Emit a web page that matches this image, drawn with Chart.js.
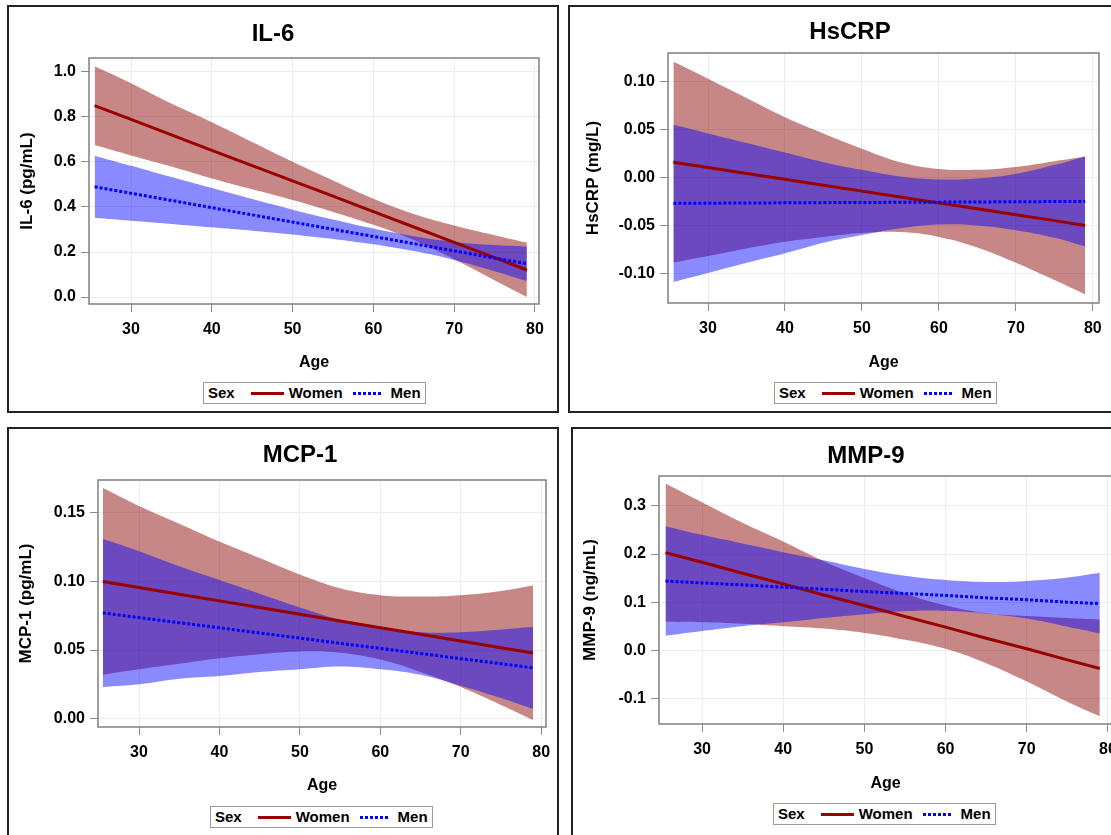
<!DOCTYPE html>
<html><head><meta charset="utf-8">
<script src="https://cdn.jsdelivr.net/npm/chart.js@4.4.1/dist/chart.umd.min.js"></script>
<style>
html,body{margin:0;padding:0;background:#fff;overflow:hidden;width:1111px;height:835px;}
body{position:relative;font-family:"Liberation Sans",Arial,sans-serif;font-weight:bold;color:#000;}
.panel{position:absolute;border:2px solid #222;width:548px;background:#fff;}
.panel canvas{position:absolute;left:0;top:0;}
.ptitle{position:absolute;width:300px;text-align:center;font-size:24px;line-height:28px;white-space:nowrap;}
.legend{position:absolute;height:22px;box-sizing:border-box;border:1px solid #9a9a9a;display:flex;align-items:center;font-size:15px;line-height:18px;padding:0 4px;white-space:nowrap;background:#fff;}
.legend .sw-w{display:inline-block;width:33px;height:3px;background:#990000;margin:0 5px 0 16px;}
.legend .sw-m{display:inline-block;width:30px;height:3px;margin:0 8px 0 10px;background:repeating-linear-gradient(90deg,#0000ff 0,#0000ff 3px,transparent 3px,transparent 5px);}
</style>
</head><body>
<script>
// ---------- data ----------
const ages = [25.5, 30, 35, 40, 45, 50, 55, 60, 65, 70, 75, 79];
const xTickValues = [30, 40, 50, 60, 70, 80];
const seriesNames = ['Women', 'Men'];
const legendTitle = 'Sex';
const xAxisTitle = 'Age';
const panelTitles = ['IL-6', 'HsCRP', 'MCP-1', 'MMP-9'];
const yAxisTitles = ['IL-6 (pg/mL)', 'HsCRP (mg/L)', 'MCP-1 (pg/mL)', 'MMP-9 (ng/mL)'];

const il6YTicks = [0, 0.2, 0.4, 0.6, 0.8, 1.0];
const il6YLabels = ['0.0', '0.2', '0.4', '0.6', '0.8', '1.0'];
const il6WomenMean  = [0.85, 0.789, 0.72, 0.652, 0.584, 0.516, 0.448, 0.379, 0.311, 0.243, 0.175, 0.12];
const il6WomenUpper = [1.025, 0.95, 0.86, 0.777, 0.689, 0.601, 0.518, 0.437, 0.369, 0.318, 0.275, 0.242];
const il6WomenLower = [0.675, 0.629, 0.58, 0.527, 0.479, 0.431, 0.378, 0.321, 0.253, 0.168, 0.075, 0.0];
const il6MenMean  = [0.49, 0.461, 0.429, 0.397, 0.365, 0.333, 0.301, 0.269, 0.237, 0.205, 0.173, 0.148];
const il6MenUpper = [0.628, 0.583, 0.533, 0.484, 0.435, 0.388, 0.344, 0.304, 0.27, 0.245, 0.231, 0.225];
const il6MenLower = [0.352, 0.339, 0.325, 0.31, 0.295, 0.278, 0.258, 0.234, 0.204, 0.165, 0.115, 0.071];

const crpYTicks = [-0.10, -0.05, 0.0, 0.05, 0.10];
const crpYLabels = ['-0.10', '-0.05', '0.00', '0.05', '0.10'];
const crpWomenMean  = [0.016, 0.0104, 0.0043, -0.0019, -0.008, -0.0142, -0.0204, -0.0265, -0.0327, -0.0389, -0.045, -0.05];
const crpWomenUpper = [0.121, 0.103, 0.083, 0.063, 0.046, 0.030, 0.016, 0.009, 0.008, 0.011, 0.017, 0.022];
const crpWomenLower = [-0.089, -0.082, -0.074, -0.067, -0.062, -0.058, -0.057, -0.062, -0.073, -0.089, -0.107, -0.122];
const crpMenMean  = [-0.027, -0.0268, -0.0266, -0.0264, -0.0262, -0.026, -0.0259, -0.0257, -0.0255, -0.0253, -0.0251, -0.025];
const crpMenUpper = [0.055, 0.046, 0.036, 0.026, 0.016, 0.008, 0.001, -0.002, -0.001, 0.004, 0.013, 0.022];
const crpMenLower = [-0.109, -0.0996, -0.089, -0.079, -0.068, -0.060, -0.053, -0.049, -0.050, -0.055, -0.063, -0.072];

const mcpYTicks = [0.0, 0.05, 0.10, 0.15];
const mcpYLabels = ['0.00', '0.05', '0.10', '0.15'];
const mcpWomenMean  = [0.100, 0.0956, 0.0907, 0.0858, 0.081, 0.0761, 0.0712, 0.0663, 0.0615, 0.0566, 0.0517, 0.0478];
const mcpWomenUpper = [0.168, 0.155, 0.142, 0.129, 0.117, 0.105, 0.095, 0.090, 0.089, 0.090, 0.093, 0.097];
const mcpWomenLower = [0.032, 0.036, 0.040, 0.044, 0.047, 0.049, 0.048, 0.043, 0.034, 0.023, 0.010, -0.001];
const mcpMenMean  = [0.077, 0.0736, 0.0699, 0.0662, 0.0624, 0.0587, 0.0549, 0.0512, 0.0475, 0.0437, 0.04, 0.037];
const mcpMenUpper = [0.131, 0.122, 0.111, 0.101, 0.091, 0.081, 0.072, 0.066, 0.063, 0.063, 0.065, 0.067];
const mcpMenLower = [0.023, 0.025, 0.029, 0.031, 0.034, 0.036, 0.038, 0.036, 0.032, 0.024, 0.015, 0.007];

const mmpYTicks = [-0.1, 0.0, 0.1, 0.2, 0.3];
const mmpYLabels = ['-0.1', '0.0', '0.1', '0.2', '0.3'];
const mmpWomenMean  = [0.203, 0.183, 0.160, 0.138, 0.115, 0.093, 0.070, 0.048, 0.025, 0.003, -0.020, -0.038];
const mmpWomenUpper = [0.347, 0.308, 0.265, 0.226, 0.185, 0.150, 0.118, 0.093, 0.077, 0.071, 0.067, 0.064];
const mmpWomenLower = [0.059, 0.058, 0.055, 0.050, 0.045, 0.036, 0.022, 0.003, -0.027, -0.065, -0.107, -0.1375];
const mmpMenMean  = [0.144, 0.140, 0.136, 0.131, 0.127, 0.122, 0.118, 0.114, 0.109, 0.105, 0.100, 0.097];
const mmpMenUpper = [0.258, 0.240, 0.222, 0.204, 0.187, 0.169, 0.155, 0.146, 0.142, 0.144, 0.151, 0.161];
const mmpMenLower = [0.030, 0.040, 0.050, 0.058, 0.067, 0.075, 0.081, 0.082, 0.076, 0.066, 0.049, 0.035];

// ---------- per-panel layout (positions/styles only) ----------
const panels = [
  { title: panelTitles[0], yTitle: yAxisTitles[0], yTicks: il6YTicks, yLabels: il6YLabels,
    w: [il6WomenMean, il6WomenLower, il6WomenUpper], m: [il6MenMean, il6MenLower, il6MenUpper],
    ox: 7, oy: 5, h: 404, area: [80, 51, 530, 297], xr: [24.8, 80.5], yr: [-0.031, 1.062],
    tx: 264, ty: 25.5, lx: 194, ly: 375, ytPad: 8, xtPad: 39 },
  { title: panelTitles[1], yTitle: yAxisTitles[1], yTicks: crpYTicks, yLabels: crpYLabels,
    w: [crpWomenMean, crpWomenLower, crpWomenUpper], m: [crpMenMean, crpMenLower, crpMenUpper],
    ox: 568, oy: 5, h: 404, area: [98, 46, 529, 296], xr: [24.8, 80.8], yr: [-0.131, 0.130],
    tx: 280, ty: 24, lx: 204, ly: 375, ytPad: 13, xtPad: 39 },
  { title: panelTitles[2], yTitle: yAxisTitles[2], yTicks: mcpYTicks, yLabels: mcpYLabels,
    w: [mcpWomenMean, mcpWomenLower, mcpWomenUpper], m: [mcpMenMean, mcpMenLower, mcpMenUpper],
    ox: 7, oy: 427, h: 408, area: [89, 51, 537, 298], xr: [24.9, 80.6], yr: [-0.0061, 0.1739],
    tx: 291, ty: 24.5, lx: 201, ly: 377, ytPad: 7, xtPad: 41.5 },
  { title: panelTitles[3], yTitle: yAxisTitles[3], yTicks: mmpYTicks, yLabels: mmpYLabels,
    w: [mmpWomenMean, mmpWomenLower, mmpWomenUpper], m: [mmpMenMean, mmpMenLower, mmpMenUpper],
    ox: 571, oy: 427, h: 408, area: [86, 47, 539, 295], xr: [24.7, 80.5], yr: [-0.1535, 0.3624],
    tx: 293, ty: 25.5, lx: 200, ly: 374, ytPad: 7, xtPad: 44 }
];

const FONT = '"Liberation Sans", Arial, sans-serif';
const WOMEN_LINE = '#990000';
const WOMEN_BAND = 'rgba(139,0,0,0.47)';
const MEN_LINE = '#0000ff';
const MEN_BAND = 'rgba(0,0,255,0.46)';
const NONE = 'rgba(0,0,0,0)';
const W = 548;

const framePlugin = {
  id: 'frame',
  afterDraw(chart) {
    const { ctx, chartArea: a } = chart;
    ctx.save();
    ctx.strokeStyle = '#808080';
    ctx.lineWidth = 1.5;
    ctx.strokeRect(a.left, a.top, a.right - a.left, a.bottom - a.top);
    ctx.restore();
  }
};

function pts(vals) { return ages.map((a, i) => ({ x: a, y: vals[i] })); }

panels.forEach((p, idx) => {
  const div = document.createElement('div');
  div.className = 'panel';
  div.style.left = p.ox + 'px';
  div.style.top = p.oy + 'px';
  div.style.height = p.h + 'px';
  document.body.appendChild(div);

  const cv = document.createElement('canvas');
  cv.width = W; cv.height = p.h;
  cv.style.width = W + 'px'; cv.style.height = p.h + 'px';
  div.appendChild(cv);

  const t = document.createElement('div');
  t.className = 'ptitle';
  t.textContent = p.title;
  t.style.left = (p.tx - 150) + 'px';
  t.style.top = (p.ty - 14) + 'px';
  div.appendChild(t);

  const lg = document.createElement('div');
  lg.className = 'legend';
  lg.style.left = p.lx + 'px';
  lg.style.top = p.ly + 'px';
  lg.innerHTML = '<span>' + legendTitle + '</span><span class="sw-w"></span><span>' + seriesNames[0] +
    '</span><span class="sw-m"></span><span>' + seriesNames[1] + '</span>';
  div.appendChild(lg);

  const [L, T, R, B] = p.area;
  const tickFont = { family: FONT, size: 16, weight: 'bold' };

  new Chart(cv, {
    type: 'line',
    data: {
      datasets: [
        { label: 'Women lower', data: pts(p.w[1]), borderColor: NONE, borderWidth: 0, fill: false, tension: 0.4, order: 10 },
        { label: 'Women upper', data: pts(p.w[2]), borderColor: NONE, borderWidth: 0, fill: '-1', backgroundColor: WOMEN_BAND, tension: 0.4, order: 10 },
        { label: 'Men lower', data: pts(p.m[1]), borderColor: NONE, borderWidth: 0, fill: false, tension: 0.4, order: 5 },
        { label: 'Men upper', data: pts(p.m[2]), borderColor: NONE, borderWidth: 0, fill: '-1', backgroundColor: MEN_BAND, tension: 0.4, order: 5 },
        { label: seriesNames[0], data: pts(p.w[0]), borderColor: WOMEN_LINE, borderWidth: 3, fill: false, tension: 0, order: 2 },
        { label: seriesNames[1], data: pts(p.m[0]), borderColor: MEN_LINE, borderWidth: 3, borderDash: [3, 2], borderCapStyle: 'butt', fill: false, tension: 0, order: 1 }
      ]
    },
    options: {
      responsive: false,
      animation: false,
      devicePixelRatio: 1,
      layout: { padding: { left: 0, top: T, right: W - R, bottom: 0 } },
      elements: { point: { radius: 0, hoverRadius: 0 } },
      plugins: { legend: { display: false }, tooltip: { enabled: false }, title: { display: false } },
      scales: {
        x: {
          type: 'linear', min: p.xr[0], max: p.xr[1],
          afterBuildTicks: s => { s.ticks = xTickValues.map(v => ({ value: v })); },
          afterFit: s => { s.height = p.h - B; s.paddingLeft = 0; s.paddingRight = 0; },
          grid: { color: '#ececec', tickColor: '#8c8c8c', tickLength: 8, lineWidth: 1 },
          border: { display: false },
          ticks: { color: '#000', font: tickFont, padding: 8, maxRotation: 0, autoSkip: false, callback: v => String(v) },
          title: { display: true, text: xAxisTitle, color: '#000', font: { family: FONT, size: 16, weight: 'bold' }, padding: { top: 0, bottom: p.xtPad } }
        },
        y: {
          type: 'linear', min: p.yr[0], max: p.yr[1],
          afterBuildTicks: s => { s.ticks = p.yTicks.map(v => ({ value: v })); },
          afterFit: s => { s.width = L; s.paddingTop = 0; s.paddingBottom = 0; },
          grid: { color: '#ececec', tickColor: '#8c8c8c', tickLength: 8, lineWidth: 1 },
          border: { display: false },
          ticks: { color: '#000', font: tickFont, padding: 5, autoSkip: false, callback: (v, i) => p.yLabels[i] },
          title: { display: true, text: p.yTitle, color: '#000', font: { family: FONT, size: 17, weight: 'bold' }, padding: { top: p.ytPad, bottom: 0 } }
        }
      }
    },
    plugins: [framePlugin]
  });
});
</script>
</body></html>
